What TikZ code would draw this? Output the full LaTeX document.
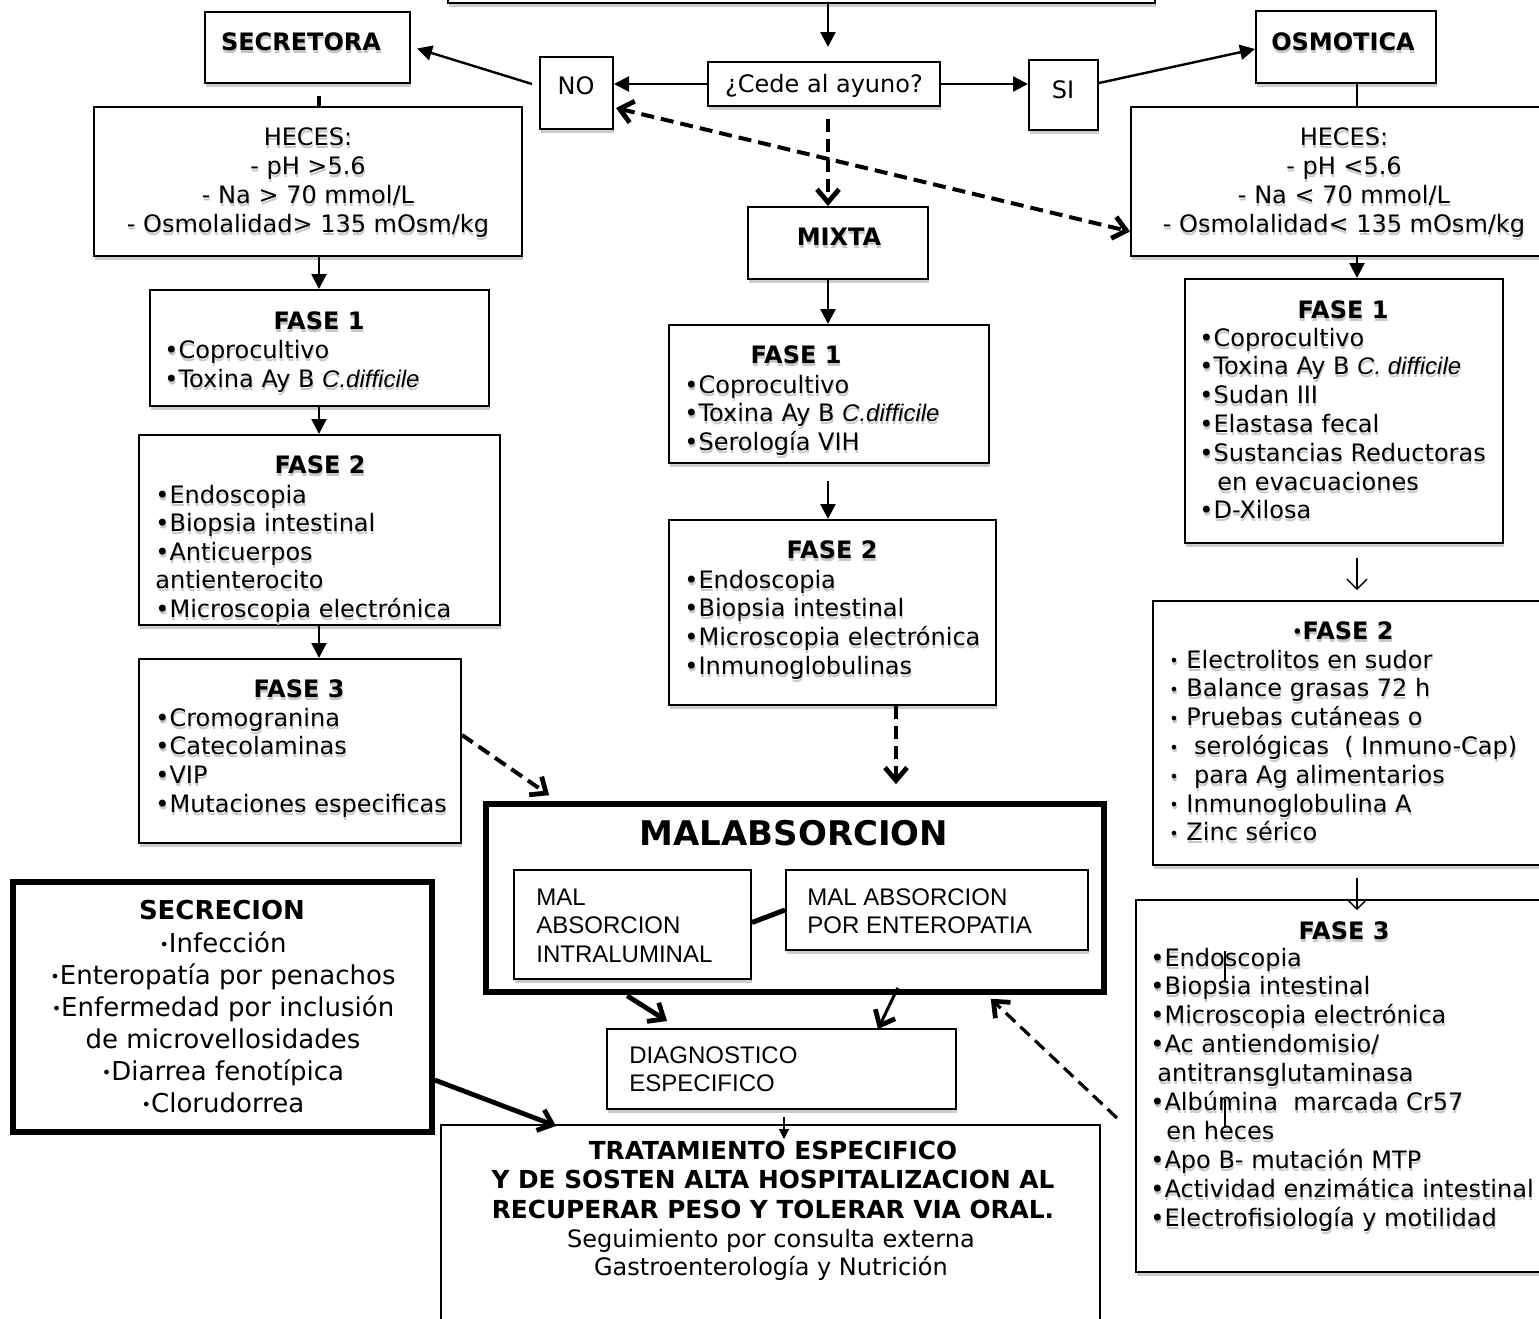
\documentclass[tikz,border=0pt]{standalone}
\usepackage{fontspec}
\setmainfont{DejaVu Sans}
\newfontfamily\arialf{Liberation Sans}
\usetikzlibrary{arrows.meta,shadows,fit,calc}

% text sizes and helpers
\newcommand\vf{\fontsize{12pt}{14.5pt}\selectfont}
\newcommand\shd[1]{\leavevmode\rlap{\hspace{0.3pt}\raisebox{-1.5pt}{\color{black!22}#1}}#1}
\newcommand\cdif[1]{{\arialf\itshape #1}}
\newcommand\sbul{\raisebox{0.6pt}{\fontsize{8pt}{8pt}\selectfont •}}
% rows of text: name, style, font, x, first baseline, pitch, list
\newcommand\rows[7]{\foreach \itm [count=\k from 0] in {#7} {\node[#2, font=#3] (#1-\k) at (#4, #5+\k*#6) {\itm};}}
\newcommand\rowsS[7]{\foreach \itm [count=\k from 0] in {#7} {\node[#2, font=#3] (#1-\k) at (#4, #5+\k*#6) {\shd{\itm}};}}

\tikzset{vtip/.tip={Straight Barb[length=6.5pt,width=11pt,line width=2.4pt]}}

\begin{document}
\begin{tikzpicture}[x=0.5pt,y=-0.5pt,
  box/.style={draw, line width=1pt, inner sep=0pt, fill=white,
    drop shadow={shadow xshift=0.3pt, shadow yshift=-2pt, fill=black!20, opacity=1}},
  plainbox/.style={draw, line width=1pt, inner sep=0pt, fill=white},
  heavybox/.style={draw, line width=2.8pt, inner sep=0pt, fill=white},
  tx/.style={inner sep=0pt, anchor=base west},
  txc/.style={inner sep=0pt, anchor=base},
  head/.style={txc, font=\vf\bfseries},
  ar/.style={-{Triangle[length=7.5pt,width=7.5pt]}, line width=1.2pt},
  thinar/.style={-{Straight Barb[length=5pt,width=10pt]}, line width=0.7pt},
  dashar/.style={-vtip, line width=2pt, dash pattern=on 6.5pt off 3.5pt},
  heavyar/.style={-vtip, line width=2.4pt},
]
\path[use as bounding box] (0,0) rectangle (1539,1319);
\fill[white] (0,0) rectangle (1539,1319);
\clip (0,0) rectangle (1539,1319);

% column guides
\coordinate (cL) at (319,0);
\coordinate (cM) at (828,0);
\coordinate (cD) at (896,0);
\coordinate (cR) at (1357,0);

% boxes
\node[box, fit={(448,-30)(1155,3)}] (top) {};
\node[box, fit={(205,12)(410,83)}] (sec) {};
\node[box, fit={(1256,11)(1436,83)}] (osm) {};
\node[box, fit={(708,62)(940,106)}] (cede) {};
\node[box, fit={(540,57)(613,129)}] (no) {};
\node[box, fit={(1029,60)(1098,130)}] (si) {};
\node[box, fit={(94,107)(522,256)}] (hl) {};
\node[box, fit={(1131,107)(1560,256)}] (hr) {};
\node[box, fit={(748,207)(928,279)}] (mix) {};
\node[box, fit={(150,290)(489,406)}] (f1l) {};
\node[box, fit={(139,435)(500,625)}] (f2l) {};
\node[box, fit={(139,659)(461,843)}] (f3l) {};
\node[box, fit={(669,325)(989,463)}] (f1m) {};
\node[box, fit={(669,520)(996,705)}] (f2m) {};
\node[box, fit={(1185,279)(1503,543)}] (f1r) {};
\node[box, fit={(1153,601)(1560,865)}] (f2r) {};
\node[box, fit={(1136,900)(1560,1272)}] (f3r) {};
\node[heavybox, fit={(486,804)(1104,992)}] (mal) {};
\node[box, fit={(514,870)(751,979)}] (inl) {};
\node[box, fit={(786,870)(1088,950)}] (inr) {};
\node[box, fit={(607,1029)(956,1109)}] (diag) {};
\node[plainbox, fit={(441,1125)(1100,1360)}] (trat) {};
\node[heavybox, fit={(13,882)(432,1132)}] (secr) {};

% texts of the decision row
\node[txc, font=\vf\bfseries] (secT) at (301,50) {\shd{SECRETORA}};
\node[txc, font=\vf\bfseries] (osmT) at (1343,50) {\shd{OSMOTICA}};
\node[txc, font=\vf] (cedeT) at (824,92) {¿Cede al ayuno?};
\node[txc, font=\vf] (noT) at (576,94) {NO};
\node[txc, font=\vf] (siT) at (1063,98) {SI};
\node[txc, font=\vf\bfseries] (mixT) at (839,245) {\shd{MIXTA}};

% stool findings
\rowsS{hlt}{txc}{\vf}{308}{145}{29}{HECES:, - pH >5.6, - Na > 70 mmol/L, - Osmolalidad> 135 mOsm/kg}
\rowsS{hrt}{txc}{\vf}{1344}{145}{29}{HECES:, - pH <5.6, - Na < 70 mmol/L, - Osmolalidad< 135 mOsm/kg}

% secretory branch
\node[head] (f1lH) at (319,329) {\shd{FASE 1}};
\rowsS{f1lt}{tx}{\vf}{164}{358}{29}{•Coprocultivo, •Toxina Ay B \cdif{C.difficile}}
\node[head] (f2lH) at (320,473) {\shd{FASE 2}};
\rowsS{f2lt}{tx}{\vf}{155}{503}{28.5}{•Endoscopia, •Biopsia intestinal, •Anticuerpos, antienterocito, •Microscopia electrónica}
\node[head] (f3lH) at (299,697) {\shd{FASE 3}};
\rowsS{f3lt}{tx}{\vf}{155}{726}{28.7}{•Cromogranina, •Catecolaminas, •VIP, •Mutaciones especificas}

% mixed branch
\node[head] (f1mH) at (796,363) {\shd{FASE 1}};
\rowsS{f1mt}{tx}{\vf}{684}{393}{28.5}{•Coprocultivo, •Toxina Ay B \cdif{C.difficile}, •Serología VIH}
\node[head] (f2mH) at (832,558) {\shd{FASE 2}};
\rowsS{f2mt}{tx}{\vf}{684}{588}{28.7}{•Endoscopia, •Biopsia intestinal, •Microscopia electrónica, •Inmunoglobulinas}

% osmotic branch
\node[head] (f1rH) at (1343,318) {\shd{FASE 1}};
\rowsS{f1rt}{tx}{\vf}{1199}{346}{28.8}{•Coprocultivo, •Toxina Ay B \cdif{C. difficile}, •Sudan III, •Elastasa fecal, •Sustancias Reductoras, \hspace*{9pt}en evacuaciones, •D-Xilosa}
\node[head] (f2rH) at (1343,639) {\shd{\sbul FASE 2}};
\rowsS{f2rt}{tx}{\vf}{1169}{668}{28.8}{\sbul\ Electrolitos en sudor, \sbul\ Balance grasas 72 h, \sbul\ Pruebas cutáneas o, \sbul\ \ serológicas\ \ ( Inmuno-Cap), \sbul\ \ para Ag alimentarios, \sbul\ Inmunoglobulina A, \sbul\ Zinc sérico}
\node[head] (f3rH) at (1344,939) {\shd{FASE 3}};
\rowsS{f3rt}{tx}{\vf}{1150}{966}{28.9}{•Endoscopia, •Biopsia intestinal, •Microscopia electrónica, •Ac antiendomisio/, \hspace*{3.5pt}antitransglutaminasa, •Albúmina\ \ marcada Cr57, \hspace*{8pt}en heces, •Apo B- mutación MTP, •Actividad enzimática intestinal, •Electrofisiología y motilidad}
\draw[line width=0.6pt] (1225,951) -- (1225,982);
\draw[line width=0.6pt] (1225,1099) -- (1225,1128);

% secretion causes
\node[txc, font=\fontsize{13pt}{16pt}\selectfont\bfseries] (secrH) at (222,919) {SECRECION};
\rows{secrt}{txc}{\fontsize{13pt}{16pt}\selectfont}{223}{952}{32}{\sbul Infección, \sbul Enteropatía por penachos, \sbul Enfermedad por inclusión, de microvellosidades, \sbul Diarrea fenotípica, \sbul Clorudorrea}

% malabsorption block
\node[txc, font=\fontsize{17pt}{20pt}\selectfont\bfseries] (malT) at (794,845) {MALABSORCION};
\rows{inlt}{tx}{\arialf\fontsize{12pt}{14.5pt}\selectfont}{536}{905}{28.5}{MAL, ABSORCION, INTRALUMINAL}
\rows{inrt}{tx}{\arialf\fontsize{12pt}{14.5pt}\selectfont}{807}{905}{28.5}{MAL ABSORCION, POR ENTEROPATIA}
\rows{diagt}{tx}{\arialf\fontsize{12pt}{14.5pt}\selectfont}{629}{1063}{28}{DIAGNOSTICO, ESPECIFICO}

% treatment
\rows{tratb}{txc}{\fontsize{12.4pt}{14.5pt}\selectfont\bfseries}{773}{1159}{29.5}{TRATAMIENTO ESPECIFICO, Y DE SOSTEN ALTA HOSPITALIZACION AL, RECUPERAR PESO Y TOLERAR VIA ORAL.}
\rows{tratr}{txc}{\vf}{771}{1247}{28}{Seguimiento por consulta externa, Gastroenterología y Nutrición}

% connectors: decision row
\draw[ar, shorten >=7pt] (top.south -| cM) -- (cede.north -| cM);
\draw[ar] (cede.west) -- (cede.west -| no.east);
\draw[ar] ($(no.west)+(-7,-9)$) -- ($(sec.east)+(6,1)$);
\draw[ar] (cede.east) -- (cede.east -| si.west);
\draw[ar] ($(si.east)+(0,-12)$) -- ($(osm.west)+(0,2)$);
\coordinate (stubL) at (319,96);
\draw[line width=1.6pt] (stubL) -- (stubL |- hl.north);
\draw[line width=1pt] (osm.south -| cR) -- (hr.north -| cR);
\draw[dashar, shorten <=6pt] (cede.south -| cM) -- (mix.north -| cM);
\draw[dashar, vtip-vtip] ($(no.east)+(2,15)$) -- ($(hr.west)+(0,50)$);

% connectors: secretory column
\draw[ar] (hl.south -| cL) -- (f1l.north -| cL);
\draw[ar] (f1l.south -| cL) -- (f2l.north -| cL);
\draw[ar] (f2l.south -| cL) -- (f3l.north -| cL);
\draw[dashar] ($(f3l.east)+(0,-16)$) -- ($(mal.north west)+(66,-6)$);

% connectors: mixed column
\draw[ar] (mix.south -| cM) -- (f1m.north -| cM);
\draw[ar, shorten <=8.5pt] (f1m.south -| cM) -- (f2m.north -| cM);
\draw[dashar, shorten >=8.5pt] (f2m.south -| cD) -- (mal.north -| cD);

% connectors: osmotic column
\draw[ar] (hr.south -| cR) -- (f1r.north -| cR);
\draw[thinar, shorten <=7pt, shorten >=5pt] (f1r.south -| cR) -- (f2r.north -| cR);
\draw[thinar, shorten <=6pt, shorten >=-5.5pt] (f2r.south -| cR) -- (f3r.north -| cR);
\draw[-vtip, line width=1.6pt, dash pattern=on 6.5pt off 3.5pt] ($(f3r.west)+(-18,32)$) -- ($(mal.south east)+(-116,4)$);

% connectors: bottom
\draw[line width=2.5pt] ($(inl.east)+(0,-2)$) -- (inr.west);
\draw[heavyar] ($(mal.south west)+(144,1)$) -- ($(diag.north west)+(61,-7)$);
\draw[-vtip, line width=1.5pt] ($(mal.south east)+(-209,-7)$) -- ($(diag.north east)+(-79,1)$);
\coordinate (cT) at (784,0);
\draw[-{Triangle[length=5pt,width=5pt]}, line width=0.6pt, shorten <=3.5pt, shorten >=-7.5pt] (diag.south -| cT) -- (trat.north -| cT);
\draw[heavyar] ($(secr.east)+(0,73)$) -- ($(trat.north west)+(116,2)$);
\end{tikzpicture}
\end{document}
